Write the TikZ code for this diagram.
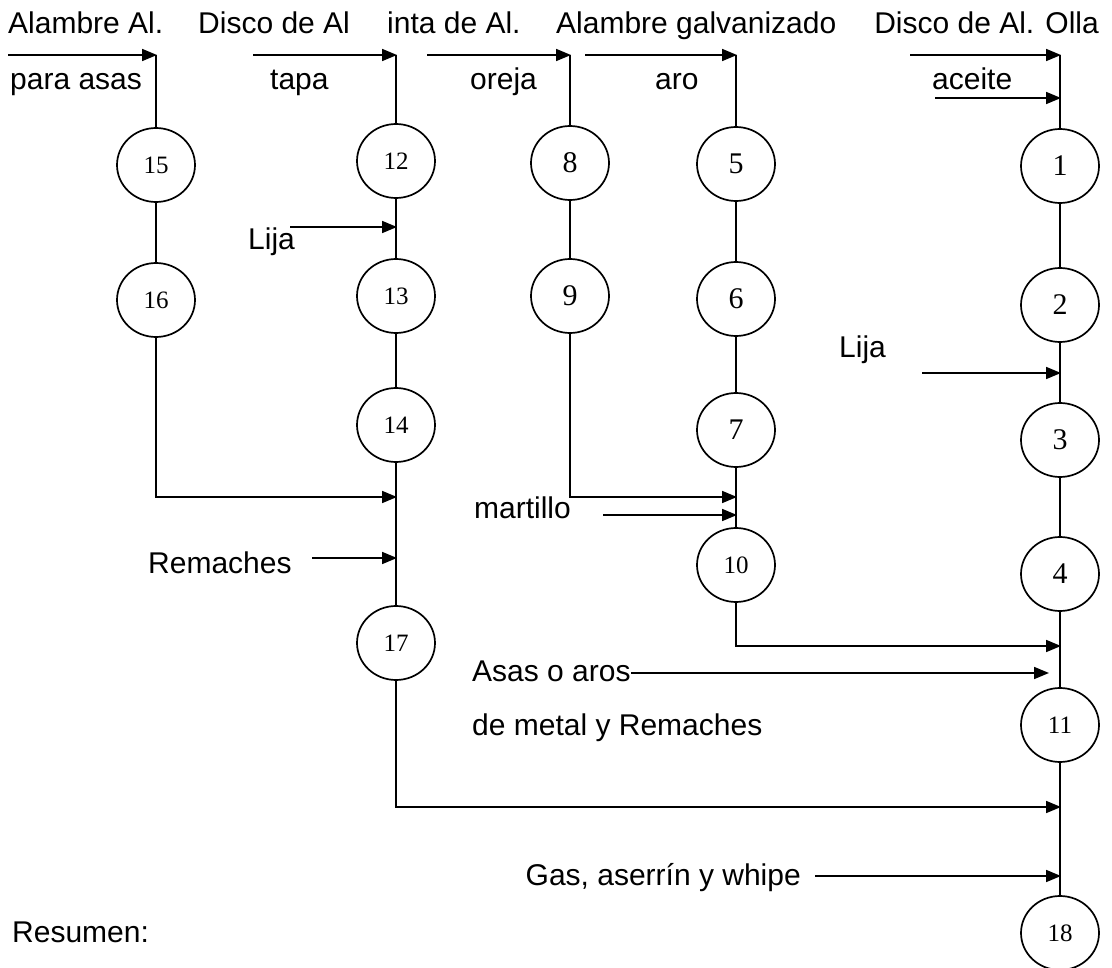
\documentclass[tikz,border=0pt]{standalone}
\usepackage{fontspec}
\setmainfont{Liberation Sans}
\newfontfamily\numfont{Liberation Serif}
\usetikzlibrary{arrows.meta,shapes.geometric}

\tikzset{
  op/.style={draw, line width=1.7pt, ellipse, minimum width=78pt, minimum height=74pt,
             inner sep=0pt, font=\numfont\fontsize{30}{30}\selectfont},
  opsmall/.style={op, font=\numfont\fontsize{25}{25}\selectfont},
  lbl/.style={anchor=base west, inner sep=0pt, font=\fontsize{30}{32}\selectfont},
  flow/.style={line width=1.7pt},
  feed/.style={line width=1.7pt, -{Triangle[length=15pt,width=12pt]}, shorten >=-1pt}
}

\begin{document}
\begin{tikzpicture}[x=1pt,y=-1pt]
  \useasboundingbox (0,0) rectangle (1112,968);

  % ---- texts ----
  \node[lbl] (tA) at (8,34)   {Alambre Al.};
  \node[lbl] (tB) at (198,34) {Disco de Al};
  \node[lbl] (tC) at (387,34) {inta de Al.};
  \node[lbl] (tD) at (556,34) {Alambre galvanizado};
  \node[lbl, anchor=base east] (tE) at (1099,34) {Disco de Al. Olla};
  \node[lbl] (tA2) at (10,90)  {para asas};
  \node[lbl] (tB2) at (270,90) {tapa};
  \node[lbl] (tC2) at (470,90) {oreja};
  \node[lbl] (tD2) at (655,90) {aro};
  \node[lbl] (tE2) at (932,90) {aceite};
  \node[lbl] (lija1) at (248,250) {Lija};
  \node[lbl] (lija2) at (839,358) {Lija};
  \node[lbl, anchor=base east] (mart) at (571,518) {martillo};
  \node[lbl] (rem) at (148,573) {Remaches};
  \node[lbl] (asas) at (472,681) {Asas o aros};
  \node[lbl] (asas2) at (472,735) {de metal y Remaches};
  \node[lbl, anchor=base east] (gas) at (801,885) {Gas, aserrín y whipe};
  \node[lbl] (res) at (12,942) {Resumen:};

  % ---- operations ----
  \node[opsmall] (c15) at (156,165) {15};
  \node[opsmall] (c16) at (156,300) {16};
  \node[opsmall] (c12) at (396,161) {12};
  \node[opsmall] (c13) at (396,296) {13};
  \node[opsmall] (c14) at (396,425) {14};
  \node[opsmall] (c17) at (396,643) {17};
  \node[op] (c8) at (570,163) {8};
  \node[op] (c9) at (570,296) {9};
  \node[op] (c5) at (736,164) {5};
  \node[op] (c6) at (736,299) {6};
  \node[op] (c7) at (736,430) {7};
  \node[opsmall] (c10) at (736,565) {10};
  \node[op] (c1) at (1060,166) {1};
  \node[op] (c2) at (1060,305) {2};
  \node[op] (c3) at (1060,440) {3};
  \node[op] (c4) at (1060,574) {4};
  \node[opsmall] (c11) at (1060,725) {11};
  \node[opsmall] (c18) at (1060,933) {18};

  % ---- entry points of the material arrows ----
  \coordinate (s1) at (8,55);    \coordinate (k1) at (156,55);
  \coordinate (s2) at (253,55);  \coordinate (k2) at (396,55);
  \coordinate (s3) at (427,55);  \coordinate (k3) at (570,55);
  \coordinate (s4) at (585,55);  \coordinate (k4) at (736,55);
  \coordinate (s5) at (910,55);  \coordinate (k5) at (1060,55);
  \coordinate (s6) at (935,98);  \coordinate (k6) at (1060,98);
  \coordinate (s7) at (290,227); \coordinate (k7) at (396,227);
  \coordinate (s8) at (922,373); \coordinate (k8) at (1060,373);
  \coordinate (k9) at (396,497);
  \coordinate (k10) at (736,497);
  \coordinate (s11) at (603,515); \coordinate (k11) at (736,515);
  \coordinate (s12) at (312,558); \coordinate (k12) at (396,558);
  \coordinate (k13) at (1060,646);
  \coordinate (s14) at (631,673); \coordinate (k14) at (1048,673);
  \coordinate (k15) at (1060,807);
  \coordinate (s16) at (815,876); \coordinate (k16) at (1060,876);

  % ---- column 1: asas ----
  \draw[feed] (s1) -- (k1);
  \draw[flow] (k1) -- (c15);
  \draw[flow] (c15) -- (c16);
  \draw[feed] (c16) |- (k9);

  % ---- column 2: tapa ----
  \draw[feed] (s2) -- (k2);
  \draw[flow] (k2) -- (c12);
  \draw[flow] (c12) -- (c13);
  \draw[feed] (s7) -- (k7);
  \draw[flow] (c13) -- (c14);
  \draw[flow] (c14) -- (c17);
  \draw[feed] (s12) -- (k12);
  \draw[feed] (c17) |- (k15);

  % ---- column 3: oreja ----
  \draw[feed] (s3) -- (k3);
  \draw[flow] (k3) -- (c8);
  \draw[flow] (c8) -- (c9);
  \draw[feed] (c9) |- (k10);

  % ---- column 4: aro ----
  \draw[feed] (s4) -- (k4);
  \draw[flow] (k4) -- (c5);
  \draw[flow] (c5) -- (c6);
  \draw[flow] (c6) -- (c7);
  \draw[flow] (c7) -- (c10);
  \draw[feed] (s11) -- (k11);
  \draw[feed] (c10) |- (k13);

  % ---- column 5: olla ----
  \draw[feed] (s5) -- (k5);
  \draw[feed] (s6) -- (k6);
  \draw[flow] (k5) -- (c1);
  \draw[flow] (c1) -- (c2);
  \draw[feed] (s8) -- (k8);
  \draw[flow] (c2) -- (c3);
  \draw[flow] (c3) -- (c4);
  \draw[flow] (c4) -- (c11);
  \draw[feed] (s14) -- (k14);
  \draw[flow] (c11) -- (c18);
  \draw[feed] (s16) -- (k16);
\end{tikzpicture}
\end{document}
